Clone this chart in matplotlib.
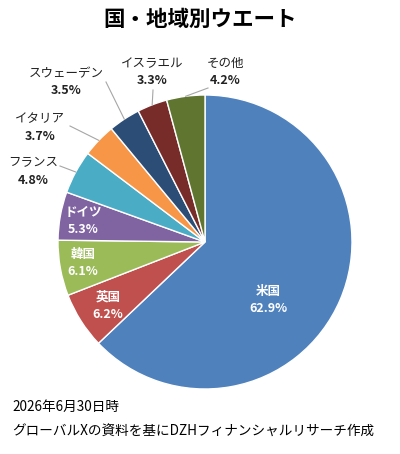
"""Pie chart of country / region weights."""

import matplotlib.pyplot as plt
import numpy as np

plt.rcParams["font.family"] = ["Noto Sans CJK JP", "DejaVu Sans"]

countries = ["米国", "英国", "韓国", "ドイツ", "フランス", "イタリア", "スウェーデン", "イスラエル", "その他"]
weights = [62.9, 6.2, 6.1, 5.3, 4.8, 3.7, 3.5, 3.3, 4.2]
colors = ["#4F81BD", "#C0504D", "#9BBB59", "#8064A2", "#4BACC6",
          "#F79646", "#2C4D75", "#772C2A", "#5F7530"]

# label layout in pixel coords (x, y from top); anchor = leader line end (None = inside)
label_pos = {
    "米国": (268, 300, None),
    "英国": (108, 306, None),
    "韓国": (83, 263, None),
    "ドイツ": (83, 221, None),
    "フランス": (33, 171, (60, 166)),
    "イタリア": (40, 127, (70, 126)),
    "スウェーデン": (66, 82, (106, 82)),
    "イスラエル": (152, 72, (153, 90)),
    "その他": (225, 72, (208, 88)),
}

W, H = 400, 454
fig = plt.figure(figsize=(W / 100, H / 100), dpi=100)
ax = fig.add_axes([0, 0, 1, 1])

cx, cy, r = 205, H - 242, 147
wedges, _ = ax.pie(weights, colors=colors, startangle=90, counterclock=False,
                   center=(cx, cy), radius=r, frame=True,
                   wedgeprops=dict(edgecolor="white", linewidth=1.0))
ax.set_xlim(0, W)
ax.set_ylim(0, H)
ax.set_aspect("equal")
ax.axis("off")

for w, name, val in zip(wedges, countries, weights):
    px, py, anchor = label_pos[name]
    y = H - py
    if anchor is None:
        ax.text(px, y, f"{name}\n{val:.1f}%", ha="center", va="center", color="white",
                fontsize=9, fontweight="bold", linespacing=1.45)
    else:
        ax.text(px, y + 8.5, name, ha="center", va="center", color="#222222", fontsize=9)
        ax.text(px, y - 9, f"{val:.1f}%", ha="center", va="center", color="#222222",
                fontsize=9, fontweight="bold")
        mid = np.deg2rad((w.theta1 + w.theta2) / 2)
        ex, ey = cx + r * np.cos(mid), cy + r * np.sin(mid)
        ax.plot([anchor[0], ex], [H - anchor[1], ey], color="#A6A6A6", linewidth=0.8)

fig.text(0.5, 1 - 19 / H, "国・地域別ウエート", ha="center", va="center",
         fontsize=15.5, fontweight="bold")
fig.text(12 / W, 1 - 407 / H, "2026年6月30日時", ha="left", va="center", fontsize=9.8)
fig.text(12 / W, 1 - 432 / H, "グローバルXの資料を基にDZHフィナンシャルリサーチ作成",
         ha="left", va="center", fontsize=9.8)

fig.savefig("out.png", dpi=100)
plt.close(fig)
